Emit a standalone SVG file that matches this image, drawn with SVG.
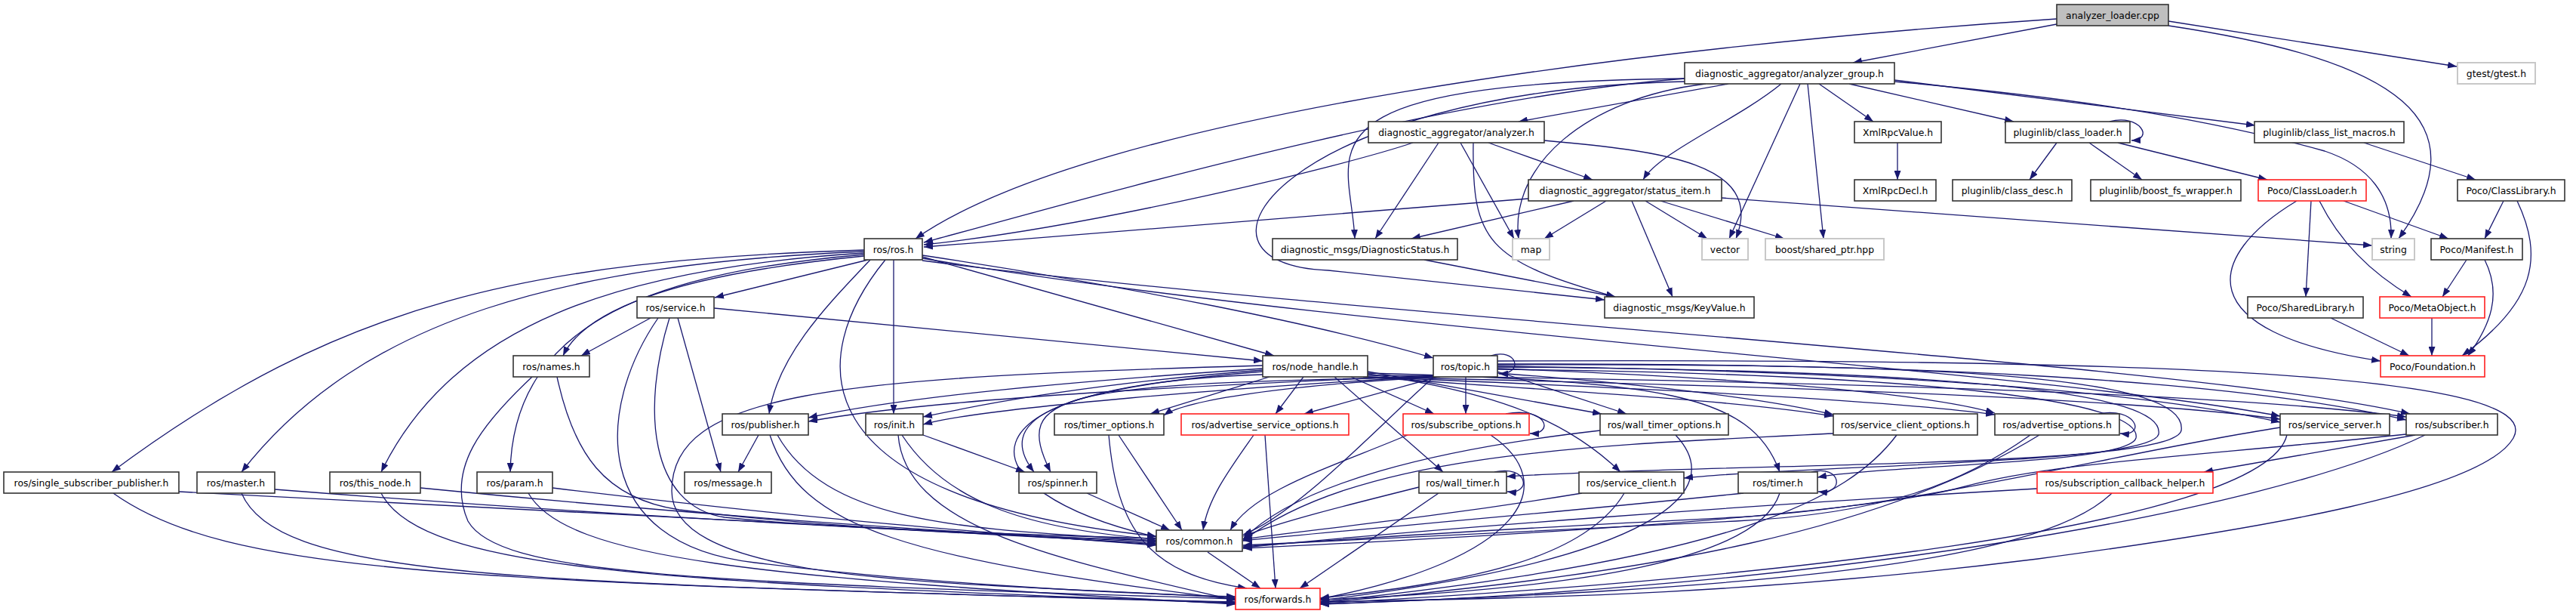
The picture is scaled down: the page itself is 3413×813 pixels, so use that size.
<svg xmlns="http://www.w3.org/2000/svg" width="3413" height="813" viewBox="0 0 3413 813">
<style>
.n rect{fill:#fff;stroke:#333;stroke-width:1.6}
.n.r rect{stroke:#ff2020}
.n.g rect{stroke:#c8c8c8;stroke-width:2}
.n.root rect{fill:#bfbfbf;stroke:#333}
.n text{font-family:"DejaVu Sans","Liberation Sans",sans-serif;font-size:12.4px;fill:#000;text-anchor:middle}
#connectors path{fill:none;stroke:#191970;stroke-width:1.3}
</style>
<defs>
<marker id="a" markerWidth="12" markerHeight="9" refX="12" refY="4.5" orient="auto" markerUnits="userSpaceOnUse"><path d="M0,0 L12,4.5 L0,9 z" fill="#191970" stroke="none"/></marker>
</defs>
<rect width="3413" height="813" fill="#fff"/>
<g id="connectors" marker-end="url(#a)">
<path d="M2725,32 L2455,83"/>
<path d="M2725,25 C2200,60 1450,150 1213,316"/>
<path d="M2873,28 L3255,88"/>
<path d="M2873,34 C3180,80 3290,160 3178,316"/>
<path d="M2232,104 C1900,130 1450,260 1224,321"/>
<path d="M2290,111 L2012,161"/>
<path d="M2360,111 C2300,160 2200,200 2177,238"/>
<path d="M2232,104 C1700,110 1790,200 1795,316"/>
<path d="M2232,108 C1700,120 1540,350 1760,358 L2126,397"/>
<path d="M2260,111 C2100,130 2000,220 2012,316"/>
<path d="M2385,111 L2291,316"/>
<path d="M2395,111 L2416,316"/>
<path d="M2410,111 L2482,161"/>
<path d="M2450,111 L2668,161"/>
<path d="M2510,106 L2988,166"/>
<path d="M2510,108 C2700,125 2900,150 3080,200 C3140,220 3170,260 3168,316"/>
<path d="M1872,189 C1780,220 1450,300 1224,324"/>
<path d="M1906,189 L1822,316"/>
<path d="M1935,189 L2006,316"/>
<path d="M1972,189 L2110,238"/>
<path d="M2046,186 C2200,200 2340,215 2300,316"/>
<path d="M1952,189 C1950,320 1970,345 2140,393"/>
<path d="M2025,263 L1224,327"/>
<path d="M2085,266 L1870,316"/>
<path d="M2128,266 L2046,316"/>
<path d="M2180,266 L2262,316"/>
<path d="M2200,266 L2364,316"/>
<path d="M2281,262 L3143,325"/>
<path d="M2162,266 L2216,393"/>
<path d="M1887,344 L2140,393"/>
<path d="M2514,189 L2514,238"/>
<path d="M2795,161 C2835,150 2855,185 2824,186"/>
<path d="M2725,189 L2689,238"/>
<path d="M2768,189 L2838,238"/>
<path d="M2806,189 L3004,238"/>
<path d="M3132,189 L3280,238"/>
<path d="M3043,266 C2920,340 2900,440 3154,478"/>
<path d="M3062,266 L3055,393"/>
<path d="M3073,266 C3100,320 3140,360 3195,393"/>
<path d="M3105,266 L3244,316"/>
<path d="M3317,266 L3292,316"/>
<path d="M3335,266 C3370,340 3360,400 3262,471"/>
<path d="M3268,344 L3236,393"/>
<path d="M3292,344 C3315,390 3300,430 3270,471"/>
<path d="M3088,421 L3192,471"/>
<path d="M3222,421 L3222,471"/>
<path d="M1145,331 C700,345 450,400 148,625"/>
<path d="M1145,333 C750,350 480,420 320,625"/>
<path d="M1145,335 C820,355 600,430 505,625"/>
<path d="M1145,337 C880,360 680,420 676,625"/>
<path d="M1145,339 C930,360 780,400 746,471"/>
<path d="M1150,344 L947,394"/>
<path d="M1153,344 C1100,400 1030,470 1019,548"/>
<path d="M1173,344 C1070,470 1050,660 1532,710"/>
<path d="M1184,344 L1184,548"/>
<path d="M1222,340 L1688,471"/>
<path d="M1222,338 C1500,380 1750,430 1899,474"/>
<path d="M1222,342 C1800,440 2700,490 3021,551"/>
<path d="M1222,345 C1800,420 2900,480 3193,548"/>
<path d="M862,421 L770,471"/>
<path d="M898,421 L955,625"/>
<path d="M887,421 C850,540 860,670 960,685 C1100,700 1350,708 1532,713"/>
<path d="M872,421 C790,540 780,720 1000,745 C1200,770 1450,785 1637,790"/>
<path d="M946,408 L1673,478"/>
<path d="M738,499 C760,600 800,660 900,675 C1100,700 1350,710 1532,716"/>
<path d="M705,499 C640,560 590,620 620,690 C660,760 900,770 1637,793"/>
<path d="M237,651 C800,680 1200,700 1532,718"/>
<path d="M150,653 C300,760 600,770 1637,797"/>
<path d="M364,648 C900,690 1200,700 1532,720"/>
<path d="M320,653 C370,770 700,770 1637,798"/>
<path d="M557,646 C1000,690 1300,705 1532,721"/>
<path d="M505,653 C560,760 900,770 1637,799"/>
<path d="M732,646 C1100,690 1300,705 1532,722"/>
<path d="M700,653 C750,740 1000,765 1637,800"/>
<path d="M1005,576 L978,625"/>
<path d="M1030,576 C1100,700 1300,700 1532,716"/>
<path d="M1020,576 C1060,700 1200,740 1637,794"/>
<path d="M1223,576 L1358,625"/>
<path d="M1195,576 C1250,660 1350,700 1532,714"/>
<path d="M1190,576 C1200,700 1400,740 1637,795"/>
<path d="M1440,653 L1550,702"/>
<path d="M1482,576 L1566,702"/>
<path d="M1469,576 C1480,700 1520,760 1652,779"/>
<path d="M1661,576 C1630,620 1600,660 1594,702"/>
<path d="M1676,576 L1690,779"/>
<path d="M1673,488 C1420,505 1200,525 1071,553"/>
<path d="M1673,490 C1420,510 1280,540 1223,552"/>
<path d="M1673,492 C1380,515 1320,560 1370,625"/>
<path d="M1682,499 L1524,548"/>
<path d="M1727,499 L1690,548"/>
<path d="M1673,496 C1250,510 1270,650 1532,711"/>
<path d="M1673,484 C1100,500 890,520 890,650 C890,780 1300,770 1637,792"/>
<path d="M1790,499 L1900,548"/>
<path d="M1812,492 L2122,548"/>
<path d="M1806,499 C2100,520 2300,530 2429,551"/>
<path d="M1808,499 C2200,515 2500,530 2643,549"/>
<path d="M1810,499 C2300,510 2800,525 3021,555"/>
<path d="M1812,497 C2400,505 2950,520 3188,552"/>
<path d="M1768,499 L1912,625"/>
<path d="M1812,495 C1990,520 2080,560 2147,625"/>
<path d="M1812,494 C2200,505 2320,520 2358,625"/>
<path d="M1975,471 C2010,460 2020,495 1986,495"/>
<path d="M1942,499 L1942,548"/>
<path d="M1902,497 C1650,508 1250,525 1071,558"/>
<path d="M1904,498 C1650,512 1300,540 1223,562"/>
<path d="M1906,499 C1400,508 1340,520 1392,625"/>
<path d="M1908,499 C1700,510 1570,530 1542,550"/>
<path d="M1905,499 L1728,548"/>
<path d="M1900,499 C1830,560 1720,680 1647,708"/>
<path d="M1984,492 L2155,548"/>
<path d="M1984,494 C2200,510 2350,530 2429,549"/>
<path d="M1984,488 C2300,500 2550,520 2643,547"/>
<path d="M1984,485 C2400,490 2800,510 3021,559"/>
<path d="M1984,482 C2500,480 2950,500 3188,556"/>
<path d="M1984,483 C2600,480 2900,500 2890,570 C2880,620 2300,612 1996,631"/>
<path d="M1984,486 C2600,490 2870,520 2860,575 C2850,615 2400,615 2231,633"/>
<path d="M1984,489 C2550,495 2840,530 2830,580 C2820,615 2500,615 2408,632"/>
<path d="M1984,478 C2800,475 3380,490 3330,580 C3290,650 3000,700 2700,740 C2300,790 2000,792 1749,797"/>
<path d="M1995,548 C2050,538 2060,575 2027,574"/>
<path d="M1865,576 C1760,620 1660,650 1630,702"/>
<path d="M1975,576 C2070,640 2020,740 1749,793"/>
<path d="M2120,570 C1900,595 1720,640 1647,714"/>
<path d="M2220,576 C2290,650 2200,740 1749,795"/>
<path d="M2429,574 C2100,590 1800,600 1647,716"/>
<path d="M2513,576 C2450,660 2300,740 1749,797"/>
<path d="M2780,548 C2830,538 2845,578 2809,574"/>
<path d="M2690,576 C2600,640 2500,680 2300,690 C2000,705 1800,715 1647,722"/>
<path d="M2702,576 C2500,700 2200,760 1749,798"/>
<path d="M3021,566 C2800,600 2550,670 2300,685 C2000,700 1800,712 1647,724"/>
<path d="M3030,576 C3000,700 2300,770 1749,799"/>
<path d="M3188,575 C2900,605 2720,612 2600,645 C2500,672 2200,700 1647,726"/>
<path d="M3213,576 C3000,680 2400,780 1749,800"/>
<path d="M3200,576 L2920,625"/>
<path d="M1980,625 C2025,615 2030,655 1997,651"/>
<path d="M1880,645 C1780,670 1700,690 1647,710"/>
<path d="M1906,653 L1722,779"/>
<path d="M2096,653 C1900,685 1750,700 1647,714"/>
<path d="M2152,653 C2100,740 1950,770 1749,792"/>
<path d="M2400,625 C2440,615 2445,655 2409,651"/>
<path d="M2310,653 C2000,685 1800,700 1647,716"/>
<path d="M2358,653 C2330,740 2100,780 1749,794"/>
<path d="M2699,647 C2300,670 1900,700 1647,725"/>
<path d="M2798,653 C2700,750 2300,780 1749,800"/>
<path d="M1600,731 L1670,779"/>
</g>
<g id="n_loader" class="n root"><rect x="2725" y="6" width="148" height="28"/><text x="2799" y="24.5">analyzer_loader.cpp</text></g>
<g id="n_group" class="n"><rect x="2232" y="83" width="278" height="28"/><text x="2371" y="101.5">diagnostic_aggregator/analyzer_group.h</text></g>
<g id="n_gtest" class="n g"><rect x="3256" y="83" width="103" height="28"/><text x="3307.5" y="101.5">gtest/gtest.h</text></g>
<g id="n_analyzer" class="n"><rect x="1813" y="161" width="233" height="28"/><text x="1929.5" y="179.5">diagnostic_aggregator/analyzer.h</text></g>
<g id="n_xmlrpcvalue" class="n"><rect x="2457" y="161" width="115" height="28"/><text x="2514.5" y="179.5">XmlRpcValue.h</text></g>
<g id="n_classloader" class="n"><rect x="2657" y="161" width="165" height="28"/><text x="2739.5" y="179.5">pluginlib/class_loader.h</text></g>
<g id="n_classlistmacros" class="n"><rect x="2987" y="161" width="198" height="28"/><text x="3086" y="179.5">pluginlib/class_list_macros.h</text></g>
<g id="n_statusitem" class="n"><rect x="2025" y="238" width="256" height="28"/><text x="2153" y="256.5">diagnostic_aggregator/status_item.h</text></g>
<g id="n_xmlrpcdecl" class="n"><rect x="2457" y="238" width="108" height="28"/><text x="2511" y="256.5">XmlRpcDecl.h</text></g>
<g id="n_classdesc" class="n"><rect x="2587" y="238" width="158" height="28"/><text x="2666" y="256.5">pluginlib/class_desc.h</text></g>
<g id="n_fswrapper" class="n"><rect x="2770" y="238" width="199" height="28"/><text x="2869.5" y="256.5">pluginlib/boost_fs_wrapper.h</text></g>
<g id="n_pococlassloader" class="n r"><rect x="2992" y="238" width="143" height="28"/><text x="3063.5" y="256.5">Poco/ClassLoader.h</text></g>
<g id="n_pococlasslibrary" class="n"><rect x="3256" y="238" width="142" height="28"/><text x="3327" y="256.5">Poco/ClassLibrary.h</text></g>
<g id="n_ros" class="n"><rect x="1145" y="316" width="77" height="28"/><text x="1183.5" y="334.5">ros/ros.h</text></g>
<g id="n_diagstatus" class="n"><rect x="1686" y="316" width="245" height="28"/><text x="1808.5" y="334.5">diagnostic_msgs/DiagnosticStatus.h</text></g>
<g id="n_map" class="n g"><rect x="2004" y="316" width="49" height="28"/><text x="2028.5" y="334.5">map</text></g>
<g id="n_vector" class="n g"><rect x="2255" y="316" width="61" height="28"/><text x="2285.5" y="334.5">vector</text></g>
<g id="n_sharedptr" class="n g"><rect x="2339" y="316" width="157" height="28"/><text x="2417.5" y="334.5">boost/shared_ptr.hpp</text></g>
<g id="n_string" class="n g"><rect x="3143" y="316" width="56" height="28"/><text x="3171" y="334.5">string</text></g>
<g id="n_manifest" class="n"><rect x="3221" y="316" width="121" height="28"/><text x="3281.5" y="334.5">Poco/Manifest.h</text></g>
<g id="n_service" class="n"><rect x="844" y="393" width="102" height="28"/><text x="895" y="411.5">ros/service.h</text></g>
<g id="n_keyvalue" class="n"><rect x="2126" y="393" width="198" height="28"/><text x="2225" y="411.5">diagnostic_msgs/KeyValue.h</text></g>
<g id="n_sharedlib" class="n"><rect x="2978" y="393" width="153" height="28"/><text x="3054.5" y="411.5">Poco/SharedLibrary.h</text></g>
<g id="n_metaobject" class="n r"><rect x="3153" y="393" width="139" height="28"/><text x="3222.5" y="411.5">Poco/MetaObject.h</text></g>
<g id="n_names" class="n"><rect x="680" y="471" width="101" height="28"/><text x="730.5" y="489.5">ros/names.h</text></g>
<g id="n_nodehandle" class="n"><rect x="1673" y="471" width="139" height="28"/><text x="1742.5" y="489.5">ros/node_handle.h</text></g>
<g id="n_topic" class="n"><rect x="1899" y="471" width="85" height="28"/><text x="1941.5" y="489.5">ros/topic.h</text></g>
<g id="n_foundation" class="n r"><rect x="3154" y="471" width="138" height="28"/><text x="3223" y="489.5">Poco/Foundation.h</text></g>
<g id="n_publisher" class="n"><rect x="957" y="548" width="114" height="28"/><text x="1014" y="566.5">ros/publisher.h</text></g>
<g id="n_init" class="n"><rect x="1147" y="548" width="76" height="28"/><text x="1185" y="566.5">ros/init.h</text></g>
<g id="n_timeropts" class="n"><rect x="1397" y="548" width="145" height="28"/><text x="1469.5" y="566.5">ros/timer_options.h</text></g>
<g id="n_advsrvopts" class="n r"><rect x="1565" y="548" width="222" height="28"/><text x="1676" y="566.5">ros/advertise_service_options.h</text></g>
<g id="n_subopts" class="n r"><rect x="1859" y="548" width="167" height="28"/><text x="1942.5" y="566.5">ros/subscribe_options.h</text></g>
<g id="n_walltimeropts" class="n"><rect x="2120" y="548" width="170" height="28"/><text x="2205" y="566.5">ros/wall_timer_options.h</text></g>
<g id="n_srvclientopts" class="n"><rect x="2429" y="548" width="191" height="28"/><text x="2524.5" y="566.5">ros/service_client_options.h</text></g>
<g id="n_advopts" class="n"><rect x="2643" y="548" width="165" height="28"/><text x="2725.5" y="566.5">ros/advertise_options.h</text></g>
<g id="n_srvserver" class="n"><rect x="3021" y="548" width="145" height="28"/><text x="3093.5" y="566.5">ros/service_server.h</text></g>
<g id="n_subscriber" class="n"><rect x="3188" y="548" width="121" height="28"/><text x="3248.5" y="566.5">ros/subscriber.h</text></g>
<g id="n_ssp" class="n"><rect x="5" y="625" width="232" height="28"/><text x="121" y="643.5">ros/single_subscriber_publisher.h</text></g>
<g id="n_master" class="n"><rect x="261" y="625" width="103" height="28"/><text x="312.5" y="643.5">ros/master.h</text></g>
<g id="n_thisnode" class="n"><rect x="437" y="625" width="120" height="28"/><text x="497" y="643.5">ros/this_node.h</text></g>
<g id="n_param" class="n"><rect x="632" y="625" width="100" height="28"/><text x="682" y="643.5">ros/param.h</text></g>
<g id="n_message" class="n"><rect x="907" y="625" width="115" height="28"/><text x="964.5" y="643.5">ros/message.h</text></g>
<g id="n_spinner" class="n"><rect x="1350" y="625" width="103" height="28"/><text x="1401.5" y="643.5">ros/spinner.h</text></g>
<g id="n_walltimer" class="n"><rect x="1880" y="625" width="116" height="28"/><text x="1938" y="643.5">ros/wall_timer.h</text></g>
<g id="n_srvclient" class="n"><rect x="2092" y="625" width="139" height="28"/><text x="2161.5" y="643.5">ros/service_client.h</text></g>
<g id="n_timer" class="n"><rect x="2303" y="625" width="105" height="28"/><text x="2355.5" y="643.5">ros/timer.h</text></g>
<g id="n_subcbhelper" class="n r"><rect x="2699" y="625" width="233" height="28"/><text x="2815.5" y="643.5">ros/subscription_callback_helper.h</text></g>
<g id="n_common" class="n"><rect x="1532" y="702" width="114" height="28"/><text x="1589" y="720.5">ros/common.h</text></g>
<g id="n_forwards" class="n r"><rect x="1637" y="779" width="112" height="28"/><text x="1693" y="797.5">ros/forwards.h</text></g>
</svg>
